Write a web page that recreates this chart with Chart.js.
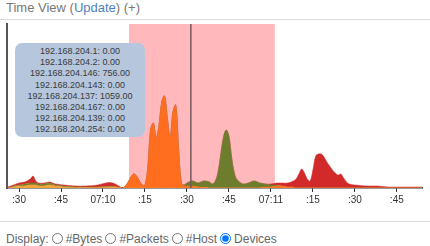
<!DOCTYPE html>
<html>
<head>
<meta charset="utf-8">
<script src="https://cdn.jsdelivr.net/npm/chart.js@4/dist/chart.umd.min.js"></script>
<style>
  body { margin: 0; width: 430px; height: 246px; background: #fff; font-family: "Liberation Sans", Arial, sans-serif; position: relative; overflow: hidden; }
  #title { position: absolute; left: 6px; top: 0; font-size: 13px; line-height: 16px; color: #777; }
  #title a { color: #4d7fc4; text-decoration: none; }
  .rule { position: absolute; left: 0; width: 430px; height: 1px; background: #dcdcdc; }
  #chartBox { position: absolute; left: 0; top: 21px; width: 430px; height: 190px; }
  #tip { position: absolute; left: 15px; top: 43px; width: 130px; height: 94px; background: #b5c6dd; border-radius: 7px; text-align: center; font-size: 9px; line-height: 11.2px; color: #3a3a3a; padding-top: 3px; box-sizing: border-box; }
  #display { position: absolute; left: 6px; top: 231px; font-size: 12px; line-height: 16px; color: #666; }
  #display input { width: 11px; height: 11px; margin: 0 3px 0 3px; vertical-align: -1px; }
</style>
</head>
<body>
<div id="title">Time View (<a href="#">Update</a>) (+)</div>
<div class="rule" style="top:19px"></div>
<div id="chartBox"><canvas id="timeChart" width="430" height="190"></canvas></div>
<div id="tip"></div>
<div class="rule" style="top:221px"></div>
<div id="display">Display:<input type="radio" name="d">#Bytes<input type="radio" name="d">#Packets<input type="radio" name="d">#Host<input type="radio" name="d" checked>Devices</div>

<script>
// seconds after 07:09:30
const times = [
  -4, -2, 0, 2, 4, 5, 6, 7, 9, 11,
  13, 16, 20, 24, 28, 32, 34, 36, 37, 38,
  39, 40, 41, 42, 43, 44, 45, 46, 47, 48,
  49, 50, 51, 52, 53, 54, 55, 56, 57, 58,
  59, 60, 62, 64, 66, 68, 69, 70, 71, 72,
  73, 74, 75, 76, 77, 78, 80, 82, 84, 86,
  88, 90, 92, 94, 96, 98, 99, 100, 101, 102,
  103, 104, 105, 106, 107, 108, 109, 110, 111, 112,
  113, 114, 115, 116, 117, 118, 120, 124, 128, 132,
  136, 140, 144
];

const dev1 = [
  0, 1, 2, 2, 3, 3, 3, 2, 2, 3,
  2, 1, 0.5, 0.5, 0.5, 1, 1, 0.5, 0, 0,
  0, 0, 0, 0, 0, 0, 0, 0, 0, 0,
  0, 0, 0, 0, 0, 0, 0, 0, 0, 0,
  0, 0, 0, 0, 0, 0, 0, 0, 0, 0,
  0, 0, 0, 0, 0, 0, 0, 0, 0, 0,
  0, 0, 0, 0, 0, 0, 0, 0, 0, 0,
  0, 0, 0, 0, 0, 0, 0, 0, 0, 0,
  0, 0, 0, 0, 0, 0, 0, 0, 0, 0,
  0, 0, 0
];

const dev146 = [
  0, 0, 0, 0, 0, 0, 0, 0, 0, 0,
  0, 0, 0, 0, 0, 0, 0, 0, 0, 2,
  6, 11, 14, 12, 7, 3, 3, 20, 58, 65,
  50, 62, 86, 92, 70, 50, 76, 83, 40, 5,
  2, 2, 2, 1, 1, 0, 0, 0, 0, 0,
  0, 0, 0, 0, 0, 0, 0, 0, 0, 0,
  1, 1, 2, 2, 1, 1, 0, 0, 0, 0,
  0, 0, 0, 0, 0, 0, 0, 0, 0, 0,
  0, 0, 0, 0, 0, 0, 0, 0, 0, 0,
  0, 0, 0
];

const dev137 = [
  0, 1, 1, 2, 2, 2, 2, 2, 2, 2,
  1, 1, 0.5, 0.5, 0.5, 0.5, 0.5, 0, 0, 0,
  0, 0, 0, 0, 0, 0, 0, 0, 0, 0,
  0, 0, 0, 0, 0, 0, 0, 0, 0, 0,
  1, 3, 5, 4, 6, 6, 4, 6, 14, 32,
  50, 58, 52, 30, 14, 8, 4, 5, 7, 5,
  3, 2, 1, 0, 0, 0, 0, 0, 0, 0,
  0, 0, 0, 0, 0, 0, 0, 0, 0, 0,
  0, 0, 0, 0, 0, 0, 0, 0, 0, 0,
  0, 0, 0
];

const dev167 = [
  1, 1, 2, 2, 4, 7, 2, 1, 1, 1,
  1, 1, 1, 1, 2, 4, 3, 1, 0, 0,
  0, 0, 0, 0, 0, 0, 0, 0, 0, 0,
  0, 0, 0, 0, 0, 0, 0, 0, 0, 0,
  0, 0, 0, 0, 0, 0, 0, 0, 0, 0,
  0, 0, 0, 0, 0, 0, 0, 0, 0, 0,
  0, 1, 2, 3, 4, 6, 9, 14, 19, 15,
  9, 7, 18, 32, 34, 34, 31, 26, 22, 18,
  15, 13, 14, 10, 6, 4, 3, 2, 2, 1,
  1, 1, 1
];

const tickTimes = [0, 15, 30, 45, 60, 75, 90, 105, 120, 135];
const tickLabels = [':30', ':45', '07:10', ':15', ':30', ':45', '07:11', ':15', ':30', ':45'];

const deviceNames = ['192.168.204.1', '192.168.204.2', '192.168.204.146', '192.168.204.143',
                     '192.168.204.137', '192.168.204.167', '192.168.204.139', '192.168.204.254'];
const hoverValues = [0, 0, 756, 0, 1059, 0, 0, 0];

const selStart = 39.3;
const selEnd = 91.4;
const hoverTime = 61.4;

// tooltip text
document.getElementById('tip').innerHTML = deviceNames
    .map((d, i) => `<div>${d}: ${hoverValues[i].toFixed(2)}</div>`).join('');

function toPoints(vals) {
    return vals.map((v, i) => ({ x: times[i], y: v }));
}

const series = [
    { label: deviceNames[0], data: dev1, color: '#f0a53a' },
    { label: deviceNames[2], data: dev146, color: '#ff6d1f' },
    { label: deviceNames[4], data: dev137, color: '#6e7c2d' },
    { label: deviceNames[5], data: dev167, color: '#d22a2a' },
];

const datasets = series.map((s, i) => ({
    label: s.label,
    data: toPoints(s.data),
    backgroundColor: s.color,
    borderColor: s.color,
    borderWidth: 0.5,
    pointRadius: 0,
    tension: 0.35,
    fill: i === 0 ? 'origin' : '-1',
}));

// pink selection + hover line
const selection = {
    id: 'selection',
    beforeDatasetsDraw(chart) {
        const { ctx, chartArea, scales } = chart;
        const x1 = scales.x.getPixelForValue(selStart);
        const x2 = scales.x.getPixelForValue(selEnd);
        ctx.save();
        ctx.fillStyle = '#ffb8bb';
        ctx.fillRect(x1, chartArea.top, x2 - x1, chartArea.bottom - chartArea.top);
        ctx.restore();
    },
    afterDatasetsDraw(chart) {
        const { ctx, chartArea, scales } = chart;
        const x = scales.x.getPixelForValue(hoverTime);
        ctx.save();
        ctx.strokeStyle = '#735a5c';
        ctx.lineWidth = 1.5;
        ctx.beginPath();
        ctx.moveTo(x, chartArea.top);
        ctx.lineTo(x, chartArea.bottom);
        ctx.stroke();
        ctx.restore();
    }
};

new Chart(document.getElementById('timeChart').getContext('2d'), {
    type: 'line',
    data: { datasets },
    options: {
        responsive: false,
        animation: false,
        layout: { padding: { left: 7, right: 8, top: 3, bottom: 3 } },
        plugins: { legend: { display: false }, tooltip: { enabled: false } },
        scales: {
            x: {
                type: 'linear',
                min: -4.3,
                max: 144,
                border: { color: '#333', width: 1.5 },
                grid: { drawOnChartArea: false, drawTicks: true, tickLength: 4, color: '#333' },
                ticks: {
                    autoSkip: false,
                    maxRotation: 0,
                    padding: 2,
                    color: '#333',
                    font: { size: 10, family: '"Liberation Sans", Arial, sans-serif' },
                    callback: (value) => tickLabels[tickTimes.indexOf(value)] ?? '',
                },
                afterBuildTicks: (axis) => { axis.ticks = tickTimes.map((v) => ({ value: v })); },
            },
            y: {
                stacked: true,
                min: 0,
                max: 164,
                grid: { display: false, drawTicks: false },
                ticks: { display: false },
                border: { display: true, color: '#555', width: 2 },
            },
        },
    },
    plugins: [selection],
});
</script>
</body>
</html>
